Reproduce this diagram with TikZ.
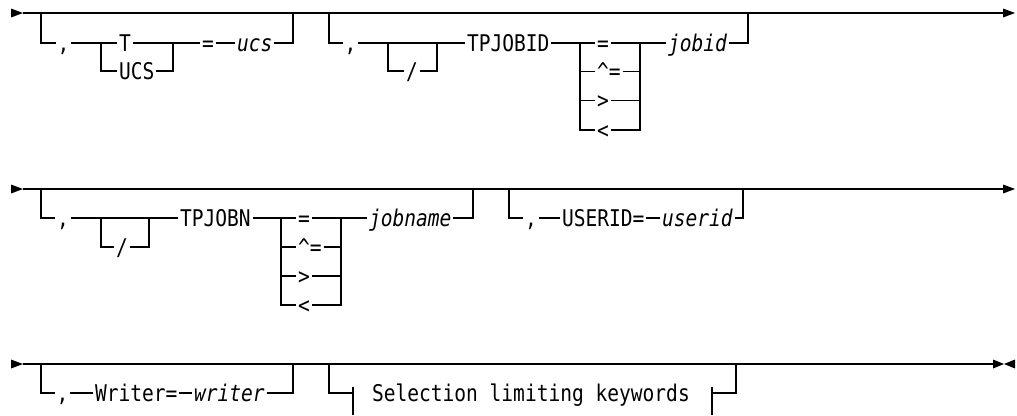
\documentclass[tikz,border=0pt]{standalone}
\usepackage{fontspec}
\newfontfamily\rrfont[FakeStretch=0.85]{DejaVu Sans Mono}
\begin{document}
\begin{tikzpicture}[x=1pt,y=-1pt,
  rail/.style={line width=1.5pt},
  kw/.style={font=\rrfont\fontsize{23}{25}\selectfont, inner sep=0pt, outer sep=2pt, text height=16.8pt, text depth=0pt},
  var/.style={kw, font=\rrfont\itshape\fontsize{23}{25}\selectfont},
  tip/.style={fill=black},
]
\useasboundingbox (0,0) rectangle (1017,415);

% ================= Row 1 =================
\coordinate (s1) at (23,13);
\coordinate (e1) at (1003,13);
\fill[tip] (s1) -- ++(-12,-4.5) -- ++(0,9) -- cycle;
\draw[rail] (s1) -- (e1);
\fill[tip] (e1) -- ++(0,-4.5) -- ++(12,4.5) -- ++(-12,4.5) -- cycle;

% branch A: , T|UCS = ucs
\coordinate (a0) at (41,13);
\node[kw] (ca) at (63.5,43) {,};
\coordinate (aL) at (101,43);
\node[kw,anchor=west] (aT) at (117,43) {T};
\node[kw,anchor=west] (aU) at (117,71) {UCS};
\coordinate (aR) at (173,43);
\node[kw] (aEq) at (208,43) {=};
\node[var,anchor=west] (aV) at (235,43) {ucs};
\coordinate (a1) at (293,13);
\draw[rail] (a0) |- (ca.west);
\draw[rail] (ca.east) -- (aL) -- (aT.west);
\draw[rail] (aL) |- (aU.west);
\draw[rail] (aT.east) -- (aR) -- (aEq.west);
\draw[rail] (aU.east) -| (aR);
\draw[rail] (aEq.east) -- (aV.west);
\draw[rail] (aV.east) -| (a1);

% branch B: , [/] TPJOBID ops jobid
\coordinate (b0) at (329,13);
\node[kw] (cb) at (350.5,43) {,};
\coordinate (bL) at (388,43);
\node[kw] (bS) at (412,71) {/};
\coordinate (bR) at (437,43);
\node[kw,anchor=west] (bK) at (465,43) {TPJOBID};
\coordinate (bOL) at (580,43);
\node[kw,anchor=west] (bo1) at (595,43) {=};
\node[kw,anchor=west] (bo2) at (595,71.5) {\textasciicircum=};
\node[kw,anchor=west] (bo3) at (595,100.5) {>};
\node[kw,anchor=west] (bo4) at (595,130) {<};
\coordinate (bOR) at (640,43);
\node[var,anchor=west] (bV) at (666,43) {jobid};
\coordinate (b1) at (748,13);
\draw[rail] (b0) |- (cb.west);
\draw[rail] (cb.east) -- (bL) -- (bR) -- (bK.west);
\draw[rail] (bL) |- (bS.west);
\draw[rail] (bS.east) -| (bR);
\draw[rail] (bK.east) -- (bOL) -- (bo1.west);
\draw[rail] (bOL) |- (bo2.west);
\draw[rail] (bOL) |- (bo3.west);
\draw[rail] (bOL) |- (bo4.west);
\draw[rail] (bo1.east) -- (bOR) -- (bV.west);
\draw[rail] (bo2.east) -| (bOR);
\draw[rail] (bo3.east) -| (bOR);
\draw[rail] (bo4.east) -| (bOR);
\draw[rail] (bV.east) -| (b1);

% ================= Row 2 =================
\coordinate (s2) at (23,189);
\coordinate (e2) at (1003,189);
\fill[tip] (s2) -- ++(-12,-4.5) -- ++(0,9) -- cycle;
\draw[rail] (s2) -- (e2);
\fill[tip] (e2) -- ++(0,-4.5) -- ++(12,4.5) -- ++(-12,4.5) -- cycle;

% branch C: , [/] TPJOBN ops jobname
\coordinate (c0) at (41,189);
\node[kw] (cc) at (63,218) {,};
\coordinate (cL) at (101,218);
\node[kw] (cS) at (122,247) {/};
\coordinate (cR) at (149,218);
\node[kw,anchor=west] (cK) at (178,218) {TPJOBN};
\coordinate (cOL) at (281,218);
\node[kw,anchor=west] (co1) at (296,218) {=};
\node[kw,anchor=west] (co2) at (296,247) {\textasciicircum=};
\node[kw,anchor=west] (co3) at (296,276) {>};
\node[kw,anchor=west] (co4) at (296,305) {<};
\coordinate (cOR) at (341,218);
\node[var,anchor=west] (cV) at (367,218) {jobname};
\coordinate (c1) at (473,189);
\draw[rail] (c0) |- (cc.west);
\draw[rail] (cc.east) -- (cL) -- (cR) -- (cK.west);
\draw[rail] (cL) |- (cS.west);
\draw[rail] (cS.east) -| (cR);
\draw[rail] (cK.east) -- (cOL) -- (co1.west);
\draw[rail] (cOL) |- (co2.west);
\draw[rail] (cOL) |- (co3.west);
\draw[rail] (cOL) |- (co4.west);
\draw[rail] (co1.east) -- (cOR) -- (cV.west);
\draw[rail] (co2.east) -| (cOR);
\draw[rail] (co3.east) -| (cOR);
\draw[rail] (co4.east) -| (cOR);
\draw[rail] (cV.east) -| (c1);

% branch D: , USERID= userid
\coordinate (d0) at (509,189);
\node[kw] (cd) at (531,218) {,};
\node[kw,anchor=west] (dK) at (560,218) {USERID=};
\node[var,anchor=west] (dV) at (660,218) {userid};
\coordinate (d1) at (743,189);
\draw[rail] (d0) |- (cd.west);
\draw[rail] (cd.east) -- (dK.west);
\draw[rail] (dK.east) -- (dV.west);
\draw[rail] (dV.east) -| (d1);

% ================= Row 3 =================
\coordinate (s3) at (23,364);
\coordinate (e3) at (993,364);
\fill[tip] (s3) -- ++(-12,-4.5) -- ++(0,9) -- cycle;
\draw[rail] (s3) -- (e3);
\fill[tip] (e3) -- ++(0,-4.5) -- ++(11,4.5) -- ++(-11,4.5) -- cycle;
\fill[tip] (e3) ++(11,0) -- ++(11,-4.5) -- ++(0,9) -- cycle;

% branch E: , Writer= writer
\coordinate (f0) at (41,364);
\node[kw] (ce) at (62.5,393) {,};
\node[kw,anchor=west] (eK) at (93,393) {Writer=};
\node[var,anchor=west] (eV) at (192,393) {writer};
\coordinate (f1) at (293,364);
\draw[rail] (f0) |- (ce.west);
\draw[rail] (ce.east) -- (eK.west);
\draw[rail] (eK.east) -- (eV.west);
\draw[rail] (eV.east) -| (f1);

% branch F: fragment reference
\coordinate (g0) at (329,364);
\coordinate (gL) at (353,393);
\coordinate (gLt) at (353,387);
\coordinate (gLb) at (353,415);
\node[kw,anchor=west] (gK) at (370,393) {Selection limiting keywords};
\coordinate (gR) at (712,393);
\coordinate (gRt) at (712,387);
\coordinate (gRb) at (712,415);
\coordinate (g1) at (736,364);
\draw[rail] (g0) |- (gL);
\draw[rail] (gLt) -- (gLb);
\draw[rail] (gRt) -- (gRb);
\draw[rail] (gR) -| (g1);
\end{tikzpicture}
\end{document}
